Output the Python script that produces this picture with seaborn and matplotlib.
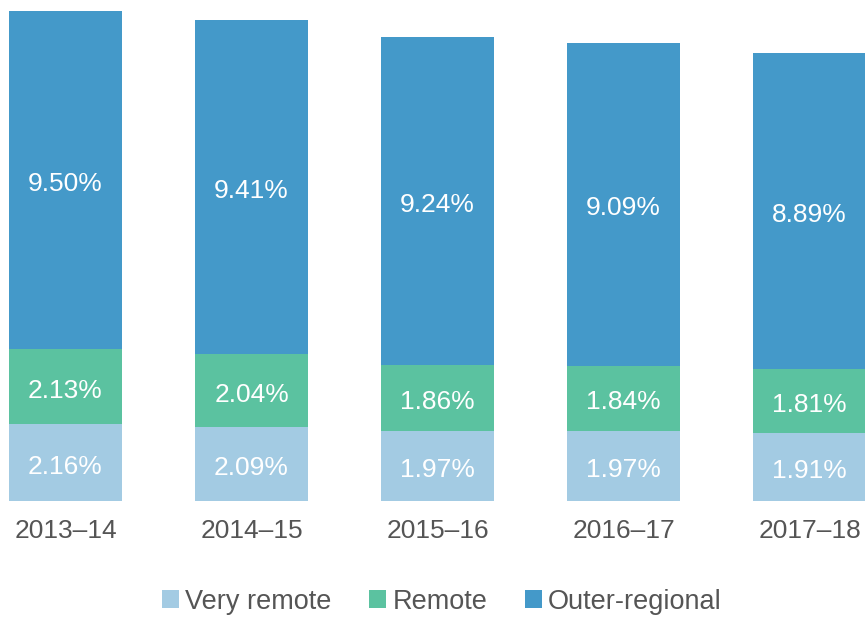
import numpy as np
import matplotlib
matplotlib.use('Agg')
import matplotlib.pyplot as plt
import seaborn as sns

# Data (percent)

years = ['2013–14', '2014–15', '2015–16', '2016–17', '2017–18']
very_remote = [2.16, 2.09, 1.97, 1.97, 1.91]
remote = [2.13, 2.04, 1.86, 1.84, 1.81]
outer_regional = [9.50, 9.41, 9.24, 9.09, 8.89]

series = [('Very remote', very_remote, '#a3cbe3'),
          ('Remote', remote, '#5bc2a0'),
          ('Outer-regional', outer_regional, '#4499c9')]

sns.set_style('white')
plt.rcParams['font.family'] = ['Liberation Sans', 'DejaVu Sans']

fig = plt.figure(figsize=(8.65, 6.19), dpi=100)
ax = fig.add_axes([0, 0.1906, 1, 0.7916])

bottom = np.zeros(len(years))
for name, vals, col in series:
    sns.barplot(x=years, y=vals, bottom=bottom, color=col, saturation=1,
                width=0.607, linewidth=0, label=name, ax=ax)
    bottom = bottom + np.array(vals)

for cont in ax.containers:
    txts = ax.bar_label(cont, labels=['%.2f%%' % v for v in cont.datavalues],
                        label_type='center', color='white', fontsize=19)
    for t in txts:
        t.xyann = (0, -3)

ax.set_xlim(-0.352, 4.298)
ax.set_ylim(0, max(bottom))
sns.despine(ax=ax, left=True, bottom=True)
ax.set_yticks([])
ax.tick_params(axis='x', length=0, pad=13, labelsize=19, labelcolor='#555555')
ax.set(xlabel='', ylabel='')

ax.legend(loc='center', bbox_to_anchor=(0.511, 0.028), bbox_transform=fig.transFigure,
          ncol=3, frameon=False, fontsize=19.5, labelcolor='#555555', borderpad=0.15,
          handlelength=0.63, handleheight=0.63, handletextpad=0.22, columnspacing=1.4)

fig.savefig('out.png', dpi=100)
